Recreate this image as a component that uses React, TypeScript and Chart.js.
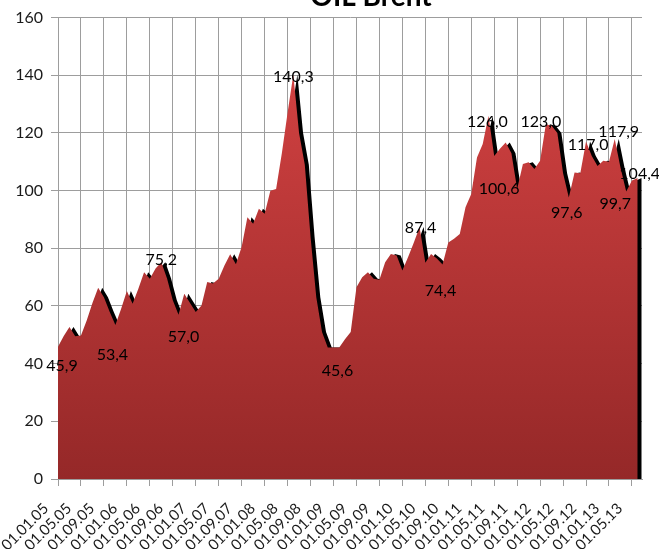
import React, { useEffect, useRef } from 'react';
import { Chart, registerables } from 'chart.js';

Chart.register(...registerables);

// Category tick labels (every 4th month)
const xTickLabels = [
  '01.01.05', '01.05.05', '01.09.05', '01.01.06', '01.05.06', '01.09.06',
  '01.01.07', '01.05.07', '01.09.07', '01.01.08', '01.05.08', '01.09.08',
  '01.01.09', '01.05.09', '01.09.09', '01.01.10', '01.05.10', '01.09.10',
  '01.01.11', '01.05.11', '01.09.11', '01.01.12', '01.05.12', '01.09.12',
  '01.01.13', '01.05.13',
];

// Monthly values, Jan 2005 .. Jun 2013
const brent2005 = [45.9, 49.6, 52.7, 49.5, 49.8, 55, 61, 66.3, 63, 58, 53.4, 59];
const brent2006 = [65.2, 60.8, 66, 71.7, 69.4, 73, 75.2, 69.5, 62, 57.0, 64.2, 61];
const brent2007 = [57.9, 60.2, 68.3, 67.8, 69.4, 74, 77.9, 74.5, 80.5, 90.8, 88.5, 93.7];
const brent2008 = [92, 100, 100.6, 113, 127, 140.3, 120, 109, 84, 63, 51, 45.6];
const brent2009 = [45.6, 45.6, 48.5, 51, 66.5, 70, 71.7, 69.4, 69.1, 75.2, 78, 77.5];
const brent2010 = [72.3, 77, 82, 87.4, 75, 78, 76.5, 74.4, 82, 83.3, 85, 94.2];
const brent2011 = [98.8, 111.5, 116.2, 126.0, 112, 114.5, 116.7, 113, 100.6, 109.2, 109.8, 107.5];
const brent2012 = [110.4, 123.0, 122.5, 120, 106, 97.6, 106.3, 106, 117.0, 112, 108.5, 110.4];
const brent2013 = [110, 117.9, 108, 99.7, 103.5, 104.4];

const brentValues = [
  ...brent2005, ...brent2006, ...brent2007, ...brent2008, ...brent2009,
  ...brent2010, ...brent2011, ...brent2012, ...brent2013,
];

// Indices of points that carry a data label
const labelledIdx = [0, 10, 18, 21, 41, 48, 63, 67, 75, 80, 85, 89, 92, 97, 99, 101];
// Label placement offsets in px (style only)
const labelOffsets: [number, number][] = [
  [4, 19], [-3, 30], [0, -2], [5, 22], [0, 2], [4, 23], [1, 1], [-2, 26],
  [-1, 6], [-18, 0], [-5, -2], [-2, 15], [2, 3], [4, -7], [-11, 12], [2, -4],
];

const FONT = 'Lato, "Open Sans", sans-serif';
const SHADOW_SHIFT = 0.7; // shadow offset, in category units (~4px)

export default function App() {
  const ref = useRef<HTMLCanvasElement | null>(null);

  useEffect(() => {
    const canvas = ref.current;
    if (!canvas) return;

    const labelsPlugin = {
      id: 'labelsPlugin',
      afterDraw(chart: any) {
        const ctx = chart.ctx;
        const xs = chart.scales.x;
        const ys = chart.scales.y;
        // data labels
        ctx.save();
        ctx.font = `16px ${FONT}`;
        ctx.fillStyle = '#000';
        ctx.textAlign = 'center';
        ctx.textBaseline = 'middle';
        labelledIdx.forEach((idx, k) => {
          const v = brentValues[idx];
          const px = xs.getPixelForValue(idx) + labelOffsets[k][0];
          const py = ys.getPixelForValue(v) + labelOffsets[k][1];
          ctx.fillText(v.toFixed(1).replace('.', ','), px, py);
        });
        ctx.restore();
        // rotated category labels
        ctx.save();
        ctx.font = `15px ${FONT}`;
        ctx.fillStyle = '#1a1a1a';
        ctx.textAlign = 'right';
        ctx.textBaseline = 'middle';
        const baseY = chart.chartArea.bottom;
        xTickLabels.forEach((lab, k) => {
          const px = xs.getPixelForValue(k * 4);
          ctx.save();
          ctx.translate(px - 12, baseY + 27);
          ctx.rotate(-Math.PI / 4);
          ctx.fillText(lab, 0, 0);
          ctx.restore();
        });
        ctx.restore();
        // title (cut off at the top edge)
        ctx.save();
        ctx.font = `bold 28px ${FONT}`;
        ctx.fillStyle = '#000';
        ctx.textAlign = 'center';
        ctx.textBaseline = 'alphabetic';
        ctx.fillText('OIL Brent', 371, 6);
        ctx.restore();
      },
    };

    const chart = new Chart(canvas, {
      type: 'line',
      data: {
        datasets: [
          {
            data: brentValues.map((v, i) => ({ x: i, y: v })),
            fill: 'origin',
            order: 1,
            borderWidth: 0,
            borderColor: 'rgba(0,0,0,0)',
            pointRadius: 0,
            tension: 0,
            backgroundColor: (c: any) => {
              const a = c.chart.chartArea;
              if (!a) return '#b03535';
              const g = c.chart.ctx.createLinearGradient(0, a.top, 0, a.bottom);
              g.addColorStop(0, '#d84444');
              g.addColorStop(1, '#952828');
              return g;
            },
          },
          {
            // dark shadow of the same series, shifted right
            data: brentValues.map((v, i) => ({ x: i + SHADOW_SHIFT, y: v })),
            fill: 'origin',
            order: 2,
            borderWidth: 0,
            borderColor: 'rgba(0,0,0,0)',
            pointRadius: 0,
            tension: 0,
            backgroundColor: '#000',
          },
        ],
      },
      options: {
        responsive: false,
        animation: false,
        layout: { padding: { left: 0, right: 17, top: 17, bottom: 0 } },
        plugins: {
          legend: { display: false },
          tooltip: { enabled: false },
          title: { display: false },
        },
        scales: {
          x: {
            type: 'linear',
            min: 0,
            max: 101.75,
            afterBuildTicks: (scale: any) => {
              scale.ticks = xTickLabels.map((_, k) => ({ value: k * 4 }));
            },
            afterFit: (scale: any) => {
              scale.height = 70;
            },
            ticks: { display: false },
            grid: { color: '#9d9d9d', lineWidth: 1, tickLength: 7 },
            border: { color: '#9d9d9d' },
          },
          y: {
            min: 0,
            max: 160,
            afterFit: (scale: any) => {
              scale.width = 58;
            },
            ticks: {
              stepSize: 20,
              padding: 8,
              color: '#1a1a1a',
              font: { family: FONT, size: 16 },
            },
            grid: { color: '#9d9d9d', lineWidth: 1, tickLength: 7 },
            border: { color: '#9d9d9d' },
          },
        },
      },
      plugins: [labelsPlugin],
    } as any);

    return () => chart.destroy();
  }, []);

  return (
    <div style={{ position: 'absolute', left: 0, top: 0, width: 659, height: 549, background: '#fff' }}>
      <canvas ref={ref} width={659} height={549} style={{ display: 'block' }} />
    </div>
  );
}
